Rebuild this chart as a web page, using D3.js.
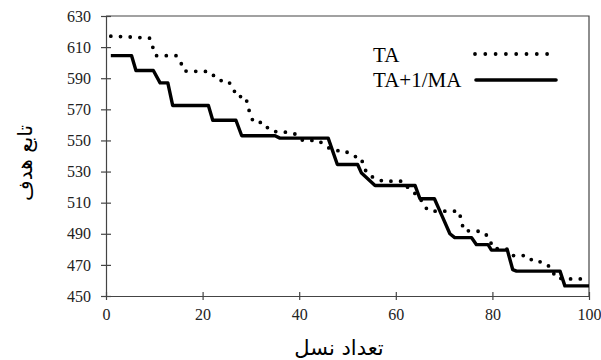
<!DOCTYPE html>
<html>
<head>
<meta charset="utf-8">
<script src="https://cdn.jsdelivr.net/npm/d3@7"></script>
<style>
  body { margin: 0; background: #fff; }
  svg { display: block; }
</style>
</head>
<body>
<div id="chart"></div>
<script>
// step corners (generation, objective value)
const genTA = [1, 5, 9, 9.8, 10.3, 14.5, 15.5, 16.2, 21.5, 22.5, 23.4, 25.2, 26.3, 27, 28.9, 29.4, 29.9, 30.6,
  32.6, 33.8, 35.5, 37.6, 39.3, 40.7, 44, 45.7, 47.4, 49.5, 50.9, 52.8, 53.3, 54, 55.7, 57.4, 61.4, 62.8,
  64.9, 65.9, 67.1, 73.1, 73.6, 74.1, 78, 79.3, 80.1, 83.3, 84.3, 87.2, 88.5, 90.4, 92, 92.6, 93.2, 96, 100];
const valTA = [617, 616.5, 615.8, 609, 604.5, 604.5, 600, 594.6, 594.3, 591, 588.5, 588.5, 584, 578.2, 578.2, 572, 566, 561.6,
  561.6, 556.7, 555.4, 555.3, 554, 550.1, 550, 545.8, 543.4, 543.4, 540, 539, 534, 528.9, 525.5, 523.8, 523.8, 518.6,
  513.8, 507.4, 504.5, 504.5, 497.8, 492, 491.5, 487.5, 480.7, 480, 476, 476, 472, 472, 468.5, 465, 461.5, 461, 461];

const genMA = [1, 5.3, 6.2, 9.8, 11.2, 12.8, 13.8, 21.2, 22.1, 26.9, 28.1, 35, 36, 46, 47.9, 52.1, 52.9, 55.7,
  64, 65, 68, 69.5, 71.2, 72.2, 75.7, 76.7, 79.1, 79.8, 83.1, 84.2, 85, 94, 95, 100];
const valMA = [604.5, 604.5, 595, 595, 587, 587, 572.5, 572.5, 563, 563, 553, 553, 551.5, 551.5, 534.5, 534.5, 529, 521,
  521, 512.5, 512.5, 502, 490, 487.5, 487.5, 483, 483, 479.5, 479.5, 467, 466, 466, 456.5, 456.5];

const xTicks = [0, 20, 40, 60, 80, 100];
const yTicks = [450, 470, 490, 510, 530, 550, 570, 590, 610, 630];
const legendNames = ['TA', 'TA+1/MA'];
const xTitle = 'تعداد نسل';
const yTitle = 'تابع هدف';

const width = 601, height = 360;
const margin = { top: 16, right: 12, bottom: 64, left: 106 };
const innerW = 589 - margin.left;
const innerH = 296 - margin.top;
const axisColor = '#444';
const serif = '"Liberation Serif", "Times New Roman", serif';

const svg = d3.select('#chart').append('svg')
  .attr('width', width)
  .attr('height', height);

const root = svg.append('g')
  .attr('transform', `translate(${margin.left},${margin.top})`);

const x = d3.scaleLinear().domain([0, 100]).range([0, innerW]);
const y = d3.scaleLinear().domain([450, 630]).range([innerH, 0]);

// frame (top and right)
root.append('path')
  .attr('d', `M0,0H${innerW}V${innerH}`)
  .attr('fill', 'none')
  .attr('stroke', axisColor)
  .attr('stroke-width', 1.2);

// x axis with crossing ticks
const xAxis = root.append('g')
  .attr('transform', `translate(0,${innerH})`)
  .call(d3.axisBottom(x).tickValues(xTicks).tickSizeInner(4).tickSizeOuter(0).tickPadding(9));
xAxis.select('.domain').attr('stroke', axisColor).attr('stroke-width', 1.2);
xAxis.selectAll('.tick line').attr('y1', -4).attr('stroke', axisColor).attr('stroke-width', 1.2);
xAxis.selectAll('.tick text')
  .attr('fill', '#222')
  .style('font-family', serif)
  .style('font-size', '16px');

// y axis with crossing ticks
const yAxis = root.append('g')
  .call(d3.axisLeft(y).tickValues(yTicks).tickSizeInner(5).tickSizeOuter(0).tickPadding(10));
yAxis.select('.domain').attr('stroke', axisColor).attr('stroke-width', 1.2);
yAxis.selectAll('.tick line').attr('x1', 5).attr('stroke', axisColor).attr('stroke-width', 1.2);
yAxis.selectAll('.tick text')
  .attr('fill', '#222')
  .style('font-family', serif)
  .style('font-size', '16px');

const line = d3.line()
  .x(d => x(d[0]))
  .y(d => y(d[1]));

// TA+1/MA solid
root.append('path')
  .datum(d3.zip(genMA, valMA))
  .attr('d', line)
  .attr('fill', 'none')
  .attr('stroke', '#000')
  .attr('stroke-width', 3.4)
  .attr('stroke-linejoin', 'round');

// TA dotted
root.append('path')
  .datum(d3.zip(genTA, valTA))
  .attr('d', line)
  .attr('fill', 'none')
  .attr('stroke', '#000')
  .attr('stroke-width', 3.8)
  .attr('stroke-linecap', 'round')
  .attr('stroke-dasharray', '0,9.7');

// legend
const legend = svg.append('g');
legend.append('text')
  .attr('x', 373).attr('y', 62)
  .style('font-family', serif).style('font-size', '21px')
  .text(legendNames[0]);
legend.append('text')
  .attr('x', 373).attr('y', 87)
  .style('font-family', serif).style('font-size', '21px')
  .text(legendNames[1]);
legend.append('line')
  .attr('x1', 475).attr('x2', 549).attr('y1', 54).attr('y2', 54)
  .attr('stroke', '#000').attr('stroke-width', 3.8)
  .attr('stroke-linecap', 'round').attr('stroke-dasharray', '0,10.3');
legend.append('line')
  .attr('x1', 476).attr('x2', 556).attr('y1', 80).attr('y2', 80)
  .attr('stroke', '#000').attr('stroke-width', 3.6)
  .attr('stroke-linecap', 'round');

// axis titles
svg.append('text')
  .attr('x', 339).attr('y', 355)
  .attr('text-anchor', 'middle')
  .style('font-family', '"DejaVu Sans", sans-serif')
  .style('font-size', '21px')
  .text(xTitle);

svg.append('text')
  .attr('transform', 'translate(32,163) rotate(-90)')
  .attr('text-anchor', 'middle')
  .style('font-family', '"DejaVu Sans", sans-serif')
  .style('font-size', '20px')
  .text(yTitle);
</script>
</body>
</html>
